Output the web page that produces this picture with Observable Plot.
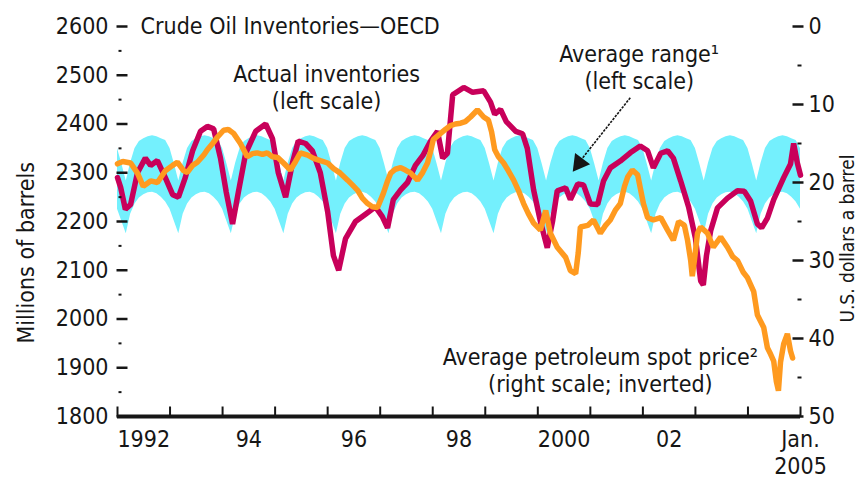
<!DOCTYPE html>
<html><head><meta charset="utf-8">
<script src="https://cdn.jsdelivr.net/npm/d3@7"></script>
<script src="https://cdn.jsdelivr.net/npm/@observablehq/plot@0.6"></script>
<style>
html,body{margin:0;padding:0;background:#fff;}
</style></head><body><div id="chart"></div>
<script>
// ---- Data ----
// Actual OECD crude inventories (millions of barrels), decimal year
const invT = [1992.00,1992.06,1992.15,1992.25,1992.38,1992.53,1992.63,1992.76,1992.91,1993.05,1993.16,1993.29,1993.43,1993.58,1993.71,1993.83,1993.96,1994.07,1994.19,1994.30,1994.44,1994.63,1994.82,1994.95,1995.06,1995.20,1995.33,1995.44,1995.58,1995.71,1995.86,1996.00,1996.11,1996.21,1996.34,1996.53,1996.72,1996.91,1997.04,1997.14,1997.25,1997.39,1997.52,1997.67,1997.81,1997.96,1998.09,1998.19,1998.28,1998.38,1998.59,1998.76,1998.97,1999.10,1999.18,1999.29,1999.40,1999.58,1999.71,1999.80,1999.92,2000.05,2000.18,2000.28,2000.37,2000.53,2000.62,2000.76,2000.87,2001.00,2001.14,2001.25,2001.38,2001.57,2001.76,2001.95,2002.09,2002.20,2002.34,2002.47,2002.58,2002.72,2002.87,2003.00,2003.10,2003.15,2003.21,2003.29,2003.42,2003.61,2003.80,2003.93,2004.05,2004.18,2004.26,2004.37,2004.49,2004.68,2004.81,2004.87,2004.94,2005.00];
const invV = [2290,2270,2225,2235,2300,2330,2315,2325,2290,2255,2250,2290,2345,2385,2395,2390,2330,2260,2195,2260,2340,2385,2400,2370,2300,2250,2320,2365,2360,2345,2300,2220,2130,2100,2165,2200,2215,2230,2210,2187,2245,2265,2280,2315,2335,2365,2385,2330,2340,2460,2475,2465,2468,2445,2420,2430,2405,2385,2380,2350,2265,2200,2146,2200,2263,2269,2245,2277,2275,2236,2235,2283,2310,2324,2341,2355,2345,2310,2340,2345,2330,2283,2230,2166,2078,2070,2130,2181,2228,2248,2263,2262,2242,2195,2187,2207,2245,2290,2318,2360,2320,2295];

// Average petroleum spot price (US$ a barrel), decimal year
const priceT = [1992.00,1992.10,1992.25,1992.38,1992.49,1992.63,1992.76,1992.91,1993.05,1993.14,1993.26,1993.33,1993.43,1993.52,1993.64,1993.71,1993.81,1993.90,1994.02,1994.11,1994.21,1994.34,1994.47,1994.57,1994.66,1994.76,1994.85,1994.95,1995.05,1995.16,1995.29,1995.39,1995.48,1995.62,1995.73,1995.86,1996.00,1996.11,1996.24,1996.38,1996.47,1996.57,1996.66,1996.76,1996.85,1996.95,1997.06,1997.14,1997.20,1997.29,1997.39,1997.48,1997.58,1997.71,1997.81,1997.90,1997.96,1998.01,1998.15,1998.24,1998.34,1998.43,1998.53,1998.62,1998.72,1998.85,1998.97,1999.06,1999.12,1999.18,1999.25,1999.35,1999.44,1999.54,1999.63,1999.73,1999.82,1999.92,2000.05,2000.15,2000.24,2000.37,2000.53,2000.62,2000.72,2000.77,2000.81,2000.95,2001.06,2001.19,2001.29,2001.38,2001.48,2001.57,2001.65,2001.71,2001.80,2001.90,2002.01,2002.09,2002.20,2002.34,2002.47,2002.58,2002.68,2002.79,2002.85,2002.91,2002.94,2002.98,2003.04,2003.10,2003.23,2003.34,2003.48,2003.61,2003.71,2003.80,2003.91,2003.99,2004.11,2004.18,2004.30,2004.37,2004.43,2004.49,2004.54,2004.58,2004.62,2004.68,2004.75,2004.81,2004.85];
const priceV = [17.6,17.3,17.5,18.8,20.5,19.8,20.0,18.5,17.8,17.4,18.5,18.7,17.8,17.4,16.5,15.8,15.0,14.2,13.3,13.2,13.7,15.0,16.7,16.3,16.2,16.4,16.2,16.7,16.8,17.5,18.4,17.3,16.2,16.5,16.9,17.2,17.5,18.2,18.8,19.7,20.3,21.0,22.0,22.7,23.1,23.2,21.4,19.8,18.8,18.3,18.1,18.4,18.8,19.7,18.7,17.5,16.0,14.5,13.7,13.2,12.7,12.5,12.4,12.2,11.6,10.7,11.6,12.0,13.5,15.8,16.7,17.5,18.5,19.7,21.0,22.7,24.0,25.2,26.1,23.6,26.5,28.3,29.6,31.3,31.7,29.0,25.7,25.5,24.8,26.5,25.5,24.8,23.5,22.7,20.5,19.3,18.4,19.0,22.7,24.5,24.8,24.5,26.1,27.4,25.0,25.5,27.4,30.0,32.0,30.0,26.5,25.7,26.5,28.3,27.0,28.3,29.5,30.0,31.5,32.2,34.0,37.0,38.6,41.2,42.0,42.9,45.5,46.7,43.0,40.7,39.4,41.6,42.5];

// Average range (monthly, Jan 1992 .. Jan 2005), millions of barrels
const rangeStart = 1992;
const rangeHigh = [
 2350,2318,2283,2320,2350,2364,2370,2374,2376,2374,2370,2366,
 2350,2318,2283,2320,2350,2364,2370,2374,2376,2374,2370,2366,
 2350,2318,2283,2320,2350,2364,2370,2374,2376,2374,2370,2366,
 2350,2318,2283,2320,2350,2364,2370,2374,2376,2374,2370,2366,
 2350,2318,2283,2320,2350,2364,2370,2374,2376,2374,2370,2366,
 2350,2318,2283,2320,2350,2364,2370,2374,2376,2374,2370,2366,
 2350,2318,2283,2320,2350,2364,2370,2374,2376,2374,2370,2366,
 2350,2318,2283,2320,2350,2364,2370,2374,2376,2374,2370,2366,
 2350,2318,2283,2320,2350,2364,2370,2374,2376,2374,2370,2366,
 2350,2318,2283,2320,2350,2364,2370,2374,2376,2374,2370,2366,
 2350,2318,2283,2320,2350,2364,2370,2374,2376,2374,2370,2366,
 2350,2318,2283,2320,2350,2364,2370,2374,2376,2374,2370,2366,
 2350,2318,2283,2320,2350,2364,2370,2374,2376,2374,2370,2366,
 2350];
const rangeLow = [
 2225,2200,2175,2215,2236,2248,2255,2259,2260,2257,2250,2240,
 2225,2200,2175,2215,2236,2248,2255,2259,2260,2257,2250,2240,
 2225,2200,2175,2215,2236,2248,2255,2259,2260,2257,2250,2240,
 2225,2200,2175,2215,2236,2248,2255,2259,2260,2257,2250,2240,
 2225,2200,2175,2215,2236,2248,2255,2259,2260,2257,2250,2240,
 2225,2200,2175,2215,2236,2248,2255,2259,2260,2257,2250,2240,
 2225,2200,2175,2215,2236,2248,2255,2259,2260,2257,2250,2240,
 2225,2200,2175,2215,2236,2248,2255,2259,2260,2257,2250,2240,
 2225,2200,2175,2215,2236,2248,2255,2259,2260,2257,2250,2240,
 2225,2200,2175,2215,2236,2248,2255,2259,2260,2257,2250,2240,
 2225,2200,2175,2215,2236,2248,2255,2259,2260,2257,2250,2240,
 2225,2200,2175,2215,2236,2248,2255,2259,2260,2257,2250,2240,
 2225,2200,2175,2215,2236,2248,2255,2259,2260,2257,2250,2240,
 2225];

// Axes / labels
const leftTicks = [1800,1900,2000,2100,2200,2300,2400,2500,2600];
const leftMinor = [1850,1950,2050,2150,2250,2350,2450,2550];
const rightTicks = [0,10,20,30,40,50];
const rightMinor = [5,15,25,35,45];
const yearTicks = [1992,1993,1994,1995,1996,1997,1998,1999,2000,2001,2002,2003,2004,2005];
const xLabelYears = [1992,1994,1996,1998,2000,2002];
const xLabels = ["1992","94","96","98","2000","02"];

// price (right scale, inverted) expressed on the left scale: 0 -> 2600, 50 -> 1800
const toLeft = p => 2600 - p * 16;

const inv = invT.map((t, i) => ({t, v: invV[i]}));
const price = priceT.map((t, i) => ({t, v: toLeft(priceV[i])}));
const band = rangeHigh.map((hi, i) => ({t: rangeStart + i / 12, hi, lo: rangeLow[i]}));

// tick-mark symbols (short strokes)
const hdash = {draw(ctx, size) { const r = Math.sqrt(size / Math.PI); ctx.moveTo(-r, 0); ctx.lineTo(r, 0); }};
const vdash = {draw(ctx, size) { const r = Math.sqrt(size / Math.PI); ctx.moveTo(0, -r); ctx.lineTo(0, r); }};

const ink = "#161616";
const chart = Plot.plot({
  width: 863, height: 479,
  marginTop: 26, marginBottom: 63, marginLeft: 117, marginRight: 63,
  x: {domain: [1992, 2005], axis: null},
  y: {domain: [1800, 2600], axis: null},
  style: {fontFamily: "'Liberation Sans Narrow','Arial Narrow','DejaVu Sans Condensed',sans-serif", fontSize: "23px", color: ink, background: "#fff", overflow: "visible"},
  marks: [
    Plot.areaY(band, {x: "t", y1: "lo", y2: "hi", fill: "#74f0fd"}),
    Plot.line(inv, {x: "t", y: "v", stroke: "#c8005a", strokeWidth: 5.5, strokeLinejoin: "miter"}),
    Plot.line(price, {x: "t", y: "v", stroke: "#ff9a1f", strokeWidth: 5.5, strokeLinejoin: "miter"}),
    // bottom axis
    Plot.ruleY([1800], {stroke: ink, strokeWidth: 4}),
    Plot.dot(yearTicks, {x: d => d, y: () => 1800, symbol: vdash, r: 5, dy: -5, stroke: ink, strokeWidth: 2, fill: "none"}),
    Plot.text(xLabelYears, {x: d => d + 0.5, y: () => 1800, dy: 23, text: (d, i) => xLabels[i], fill: ink}),
    Plot.text(["Jan."], {x: () => 2005, y: () => 1800, dy: 23, fill: ink}),
    Plot.text(["2005"], {x: () => 2005, y: () => 1800, dy: 50, fill: ink}),
    // left axis
    Plot.dot(leftTicks, {x: () => 1992, y: d => d, symbol: hdash, r: 5.5, dx: 4.5, stroke: ink, strokeWidth: 2.5, fill: "none"}),
    Plot.dot(leftMinor, {x: () => 1992, y: d => d, symbol: hdash, r: 1.5, dx: 2.5, stroke: ink, strokeWidth: 2, fill: "none"}),
    Plot.text(leftTicks, {x: () => 1992, y: d => d, text: d => String(d), textAnchor: "end", dx: -9, fill: ink}),
    // right axis (price, inverted)
    Plot.dot(rightTicks, {x: () => 2005, y: toLeft, symbol: hdash, r: 5.5, dx: -2.5, stroke: ink, strokeWidth: 2.5, fill: "none"}),
    Plot.dot(rightMinor, {x: () => 2005, y: toLeft, symbol: hdash, r: 2, dx: -1, stroke: ink, strokeWidth: 2, fill: "none"}),
    Plot.text(rightTicks, {x: () => 2005, y: toLeft, text: d => String(d), textAnchor: "start", dx: 8, fill: ink}),
    // axis titles
    Plot.text(["Millions of barrels"], {x: () => 1992, y: () => 2136, dx: -91, rotate: -90, textAnchor: "middle", fill: ink}),
    Plot.text(["U.S. dollars a barrel"], {x: () => 2005, y: () => 2165, dx: 47, rotate: -90, textAnchor: "middle", fontSize: 19, fill: ink}),
    // title & annotations
    Plot.text(["Crude Oil Inventories\u2014OECD"], {x: () => 1992.44, y: () => 2600, textAnchor: "start", fill: ink}),
    Plot.text(["Actual inventories\n(left scale)"], {x: () => 1995.98, y: () => 2476, lineHeight: 1.17, fill: ink}),
    Plot.text(["Average range\u00b9\n(left scale)"], {x: () => 2001.93, y: () => 2517, lineHeight: 1.17, fill: ink}),
    Plot.text(["Average petroleum spot price\u00b2\n(right scale; inverted)"], {x: () => 2001.19, y: () => 1896, lineHeight: 1.2, fill: ink}),
    // arrow to the range band
    Plot.link([0], {x1: () => 2001.76, y1: () => 2454, x2: () => 2000.82, y2: () => 2326, stroke: ink, strokeWidth: 1.6, strokeDasharray: "2.5,1.2"}),
    Plot.dot([0], {x: () => 2000.79, y: () => 2320, symbol: "triangle", r: 7, fill: ink, stroke: "none", rotate: 217})
  ]
});
document.getElementById("chart").appendChild(chart);
</script>
</body></html>
